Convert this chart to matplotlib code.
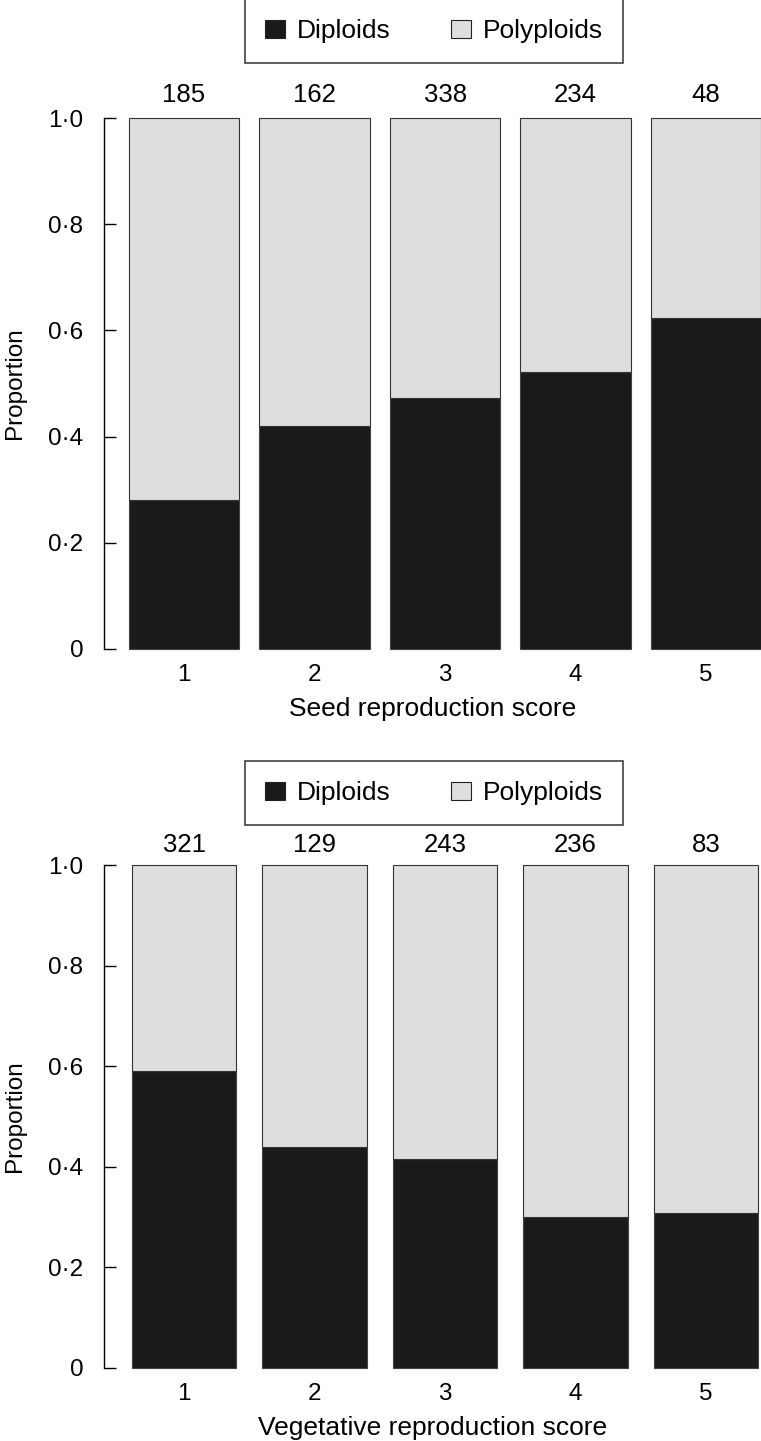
import numpy as np
import matplotlib
matplotlib.use('Agg')
import matplotlib.pyplot as plt
from matplotlib.patches import Patch

plt.rcParams['font.family'] = ['Liberation Sans', 'DejaVu Sans']

# scores 1..5, proportion of diploids in each class, and the sample sizes
scores = [1, 2, 3, 4, 5]
score_labels = ['1', '2', '3', '4', '5']

seed_diploid = [0.281, 0.420, 0.472, 0.522, 0.624]
seed_n = [185, 162, 338, 234, 48]

veg_diploid = [0.590, 0.440, 0.415, 0.301, 0.309]
veg_n = [321, 129, 243, 236, 83]

yticks = [0, 0.2, 0.4, 0.6, 0.8, 1.0]
ytick_labels = ['0', '0\u00b72', '0\u00b74', '0\u00b76', '0\u00b78', '1\u00b70']

DARK = '#1a1a1a'
LIGHT = '#dedede'
TICK_FS = 17.5
LABEL_FS = 19


def draw_panel(ax, diploid, counts, xlabel, bar_width, legend_y, count_y):
    diploid = np.array(diploid)
    poly = 1 - diploid
    ax.bar(scores, diploid, width=bar_width, color=DARK, edgecolor='#444444',
           linewidth=0.8, clip_on=False)
    ax.bar(scores, poly, bottom=diploid, width=bar_width, color=LIGHT,
           edgecolor='#333333', linewidth=0.8, clip_on=False)

    # sample sizes above the bars
    for x, n in zip(scores, counts):
        ax.text(x, count_y, str(n), ha='center', va='baseline', fontsize=18.5)

    ax.set_xlim(0.387, 5.42)
    ax.set_ylim(0, 1)
    ax.set_xticks(scores)
    ax.set_xticklabels(score_labels)
    ax.set_yticks(yticks)
    ax.set_yticklabels(ytick_labels)
    ax.tick_params(axis='x', length=0, pad=11, labelsize=TICK_FS)
    ax.tick_params(axis='y', direction='in', length=8.6, width=1.0, pad=15,
                   labelsize=TICK_FS)
    for s in ['top', 'right', 'bottom']:
        ax.spines[s].set_visible(False)
    ax.spines['left'].set_bounds(0, 1)
    ax.spines['left'].set_linewidth(1.0)

    ax.set_xlabel(xlabel, fontsize=LABEL_FS, labelpad=8)
    ax.set_ylabel('Proportion', fontsize=17.5)
    ax.yaxis.set_label_coords(-0.118, 0.5)

    handles = [Patch(facecolor=DARK, edgecolor='#222222', linewidth=0.8),
               Patch(facecolor=LIGHT, edgecolor='#222222', linewidth=0.8)]
    leg = ax.legend(handles, ['Diploids', 'Polyploids'], ncol=2,
                    loc='lower center', bbox_to_anchor=(0.502, legend_y),
                    borderaxespad=0, fontsize=LABEL_FS, frameon=True, fancybox=False,
                    handlelength=0.76, handleheight=0.68, handletextpad=0.45,
                    columnspacing=2.3, borderpad=0.75)
    leg.get_frame().set_edgecolor('black')
    leg.get_frame().set_linewidth(1.1)


fig = plt.figure(figsize=(7.61, 14.41), dpi=100)
ax1 = fig.add_axes([0.13666, 0.54962, 0.86334, 0.36849])
ax2 = fig.add_axes([0.13666, 0.05066, 0.86334, 0.34906])

draw_panel(ax1, seed_diploid, seed_n, 'Seed reproduction score', 0.845, 1.104, 1.030)
draw_panel(ax2, veg_diploid, veg_n, 'Vegetative reproduction score', 0.80, 1.080, 1.025)

fig.savefig('out.png', dpi=100)
